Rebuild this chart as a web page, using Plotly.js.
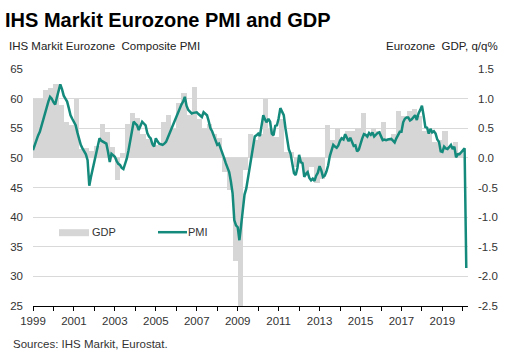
<!DOCTYPE html>
<html>
<head>
<meta charset="utf-8">
<script src="https://cdn.plot.ly/plotly-3.0.1.min.js"></script>
<style>html,body{margin:0;padding:0;background:#fff;}#chart{width:509px;height:357px;}</style>
</head>
<body>
<div id="chart"></div>
<script>
// Eurozone GDP q/q %, quarterly from 1999 Q1 to 2019 Q4
const gdpStartYear = 1999;
const gdpValues = [
  1.0, 1.0, 1.14, 1.18,
  1.24, 0.89, 0.60, 0.55,
  1.0, 0.15, 0.17, 0.12,
  0.2, 0.58, 0.44, 0.18,
  -0.38, 0.08, 0.58, 0.75,
  0.68, 0.4, 0.32, 0.21,
  0.21, 0.6, 0.73, 0.49,
  0.93, 1.1, 0.72, 1.2,
  0.66, 0.5, 0.58, 0.4,
  0.33, -0.24, -0.55, -1.74,
  -3.0, -0.2, 0.4, 0.3,
  0.4, 1.0, 0.5, 0.35,
  0.65, 0.1, 0.1, -0.15,
  -0.1, -0.3, -0.15, -0.43,
  -0.35, 0.55, 0.3, 0.5,
  0.35, 0.45, 0.45, 0.5,
  0.75, 0.4, 0.5, 0.45,
  0.6, 0.3, 0.4, 0.79,
  0.7, 0.79, 0.83, 0.7,
  0.46, 0.45, 0.27, 0.3,
  0.46, 0.2, 0.27, 0.1
];

// IHS Markit Eurozone Composite PMI, monthly from Jan 1999 to Mar 2020
const pmiStartYear = 1999;
const pmiValues = [
  51.3, 52.2, 53.0, 53.8, 54.4, 55.5, 56.6, 57.5, 58.4, 59.5, 60.3, 60.0,
  59.4, 59.0, 60.2, 61.5, 62.4, 61.6, 60.5, 60.0, 59.5, 58.4, 57.2, 56.6,
  56.0, 55.5, 54.3, 53.2, 52.2, 51.6, 51.0, 50.6, 49.6, 45.3, 46.8, 48.2,
  49.3, 50.9, 52.3, 53.3, 52.9, 52.7, 52.5, 52.4, 51.0, 49.3, 50.7, 50.5,
  50.2, 49.5, 49.0, 48.8, 48.3, 48.1, 49.0, 49.9, 51.3, 52.7, 54.5, 56.1,
  55.8, 55.5, 54.7, 55.3, 56.1, 55.8, 55.5, 54.2, 53.6, 53.3, 52.3, 51.9,
  53.3, 52.8, 52.4, 52.3, 52.2, 52.4, 52.7, 53.4, 54.1, 55.0, 55.8, 56.5,
  57.2, 57.9, 58.6, 59.0, 59.5, 60.3, 58.8, 58.1, 57.8, 57.5, 57.6, 57.7,
  57.7, 57.4, 57.2, 56.9, 57.7, 57.5, 57.2, 56.2, 55.0, 54.5, 53.8, 53.0,
  52.2, 52.4, 51.7, 51.0, 50.0, 49.1, 48.3, 47.6, 46.0, 44.0, 39.5, 38.6,
  38.3, 36.1, 38.6, 41.5, 43.8, 44.8, 46.5, 48.5, 50.5, 51.8, 53.6, 53.8,
  54.1, 53.7, 55.9, 57.2, 56.5, 56.0, 56.6, 56.1, 54.1, 53.8, 55.4, 55.5,
  56.7, 58.4, 57.8, 57.2, 55.0, 53.4, 51.4, 50.7, 49.0, 47.4, 47.1, 48.3,
  50.5, 49.3, 49.1, 46.8, 47.3, 47.6, 46.6, 46.2, 46.5, 46.1, 47.0, 47.5,
  48.6, 47.9, 46.8, 47.0, 47.7, 48.7, 50.3, 51.5, 52.2, 51.9, 51.7, 52.1,
  52.9, 53.3, 53.1, 54.0, 53.5, 52.8, 53.4, 52.5, 52.0, 52.1, 51.1, 51.4,
  52.6, 53.3, 54.0, 53.9, 53.6, 54.2, 53.9, 54.3, 53.6, 53.9, 54.2, 54.3,
  53.6, 53.0, 53.1, 53.0, 53.1, 53.1, 53.2, 52.9, 52.6, 53.3, 53.9, 54.4,
  54.4, 56.0, 56.6, 56.8, 56.8, 56.3, 56.5, 56.9, 57.2, 56.4, 57.5, 58.1,
  58.8, 57.1, 55.2, 55.1, 54.1, 54.9, 54.3, 54.5, 54.1, 53.1, 52.7, 51.1,
  51.0, 51.9, 51.6, 51.5, 51.8, 52.2, 51.5, 51.9, 50.1, 50.6, 50.6, 50.9,
  51.3, 51.6, 31.4
];

// Tick labels
const yearTicks = [1999,2000,2001,2002,2003,2004,2005,2006,2007,2008,2009,2010,2011,2012,2013,2014,2015,2016,2017,2018,2019,2020];
const yearLabels = ['1999','','2001','','2003','','2005','','2007','','2009','','2011','','2013','','2015','','2017','','2019',''];
const pmiTicks = [25,30,35,40,45,50,55,60,65];
const pmiLabels = ['25','30','35','40','45','50','55','60','65'];
const gdpTicks = [-2.5,-2.0,-1.5,-1.0,-0.5,0.0,0.5,1.0,1.5];
const gdpLabels = ['-2.5','-2.0','-1.5','-1.0','-0.5','0.0','0.5','1.0','1.5'];

const seriesNames = ['GDP', 'PMI'];
const titleText = 'IHS Markit Eurozone PMI and GDP';
const leftAxisTitle = 'IHS Markit Eurozone  Composite PMI';
const rightAxisTitle = 'Eurozone  GDP, q/q%';
const sourceText = 'Sources: IHS Markit, Eurostat.';

const FONT = 'Arial, "Liberation Sans", sans-serif';
const TEAL = '#138a7c';
const BARGRAY = '#d6d6d6';

const gdpX = gdpValues.map((v, i) => gdpStartYear + i * 0.25 + 0.125);
const pmiX = pmiValues.map((v, i) => pmiStartYear + i / 12);

const traces = [
  {
    type: 'bar', name: seriesNames[0], x: gdpX, y: gdpValues, width: 0.25,
    marker: {color: BARGRAY, line: {width: 0}}, yaxis: 'y', xaxis: 'x',
    hoverinfo: 'skip', showlegend: false
  },
  {
    type: 'scatter', mode: 'lines', name: seriesNames[1], x: pmiX, y: pmiValues,
    line: {color: TEAL, width: 2.5}, yaxis: 'y2', xaxis: 'x',
    hoverinfo: 'skip', showlegend: false
  }
];

// plot area pixel geometry
const L = 33, R = 41, T = 69, B = 51.3;
const W = 509 - L - R, H = 357 - T - B;
const px = (x) => (x - L) / W;
const py = (y) => (357 - B - y) / H;

const layout = {
  width: 509, height: 357,
  margin: {l: L, r: R, t: T, b: B, pad: 0},
  paper_bgcolor: '#ffffff', plot_bgcolor: '#ffffff',
  font: {family: FONT, size: 11, color: '#333333'},
  showlegend: false,
  bargap: 0,
  title: {
    text: '<b>' + titleText + '</b>',
    font: {family: FONT, size: 20, color: '#000000'},
    xref: 'container', yref: 'container',
    x: 5 / 509, xanchor: 'left', y: 1 - 20 / 357, yanchor: 'middle'
  },
  xaxis: {
    range: [1999, 2020.25], tickmode: 'array', tickvals: yearTicks, ticktext: yearLabels,
    ticks: 'outside', ticklen: 4, tickwidth: 1, tickcolor: '#000000',
    showline: true, linecolor: '#000000', linewidth: 1,
    showgrid: false, zeroline: false,
    tickfont: {family: FONT, size: 11.5, color: '#333333'}, fixedrange: true
  },
  yaxis: {
    range: [-2.5, 1.5], side: 'right', tickmode: 'array', tickvals: gdpTicks, ticktext: gdpLabels,
    showgrid: true, gridcolor: '#d9d9d9', gridwidth: 1, zeroline: false, showline: false,
    ticks: '', ticklabelstandoff: 9,
    tickfont: {family: FONT, size: 11.5, color: '#333333'}, fixedrange: true
  },
  yaxis2: {
    range: [25, 65], overlaying: 'y', side: 'left', tickmode: 'array', tickvals: pmiTicks, ticktext: pmiLabels,
    showgrid: false, zeroline: false, showline: false,
    ticks: '', ticklabelstandoff: 9,
    tickfont: {family: FONT, size: 11.5, color: '#333333'}, fixedrange: true
  },
  shapes: [
    {type: 'rect', xref: 'paper', yref: 'paper', x0: px(59), x1: px(89), y0: py(236), y1: py(229),
     fillcolor: BARGRAY, line: {width: 0}},
    {type: 'line', xref: 'paper', yref: 'paper', x0: px(158), x1: px(187), y0: py(232), y1: py(232),
     line: {color: TEAL, width: 2.5}}
  ],
  annotations: [
    {text: seriesNames[0], xref: 'paper', yref: 'paper', x: px(90), y: py(232), xanchor: 'left', yanchor: 'middle',
     showarrow: false, font: {family: FONT, size: 11, color: '#333333'}},
    {text: seriesNames[1], xref: 'paper', yref: 'paper', x: px(186), y: py(232), xanchor: 'left', yanchor: 'middle',
     showarrow: false, font: {family: FONT, size: 11, color: '#333333'}},
    {text: leftAxisTitle, xref: 'paper', yref: 'paper', x: px(7), y: py(46.5), xanchor: 'left', yanchor: 'middle',
     showarrow: false, font: {family: FONT, size: 11.5, color: '#222222'}},
    {text: rightAxisTitle, xref: 'paper', yref: 'paper', x: px(500), y: py(46.5), xanchor: 'right', yanchor: 'middle',
     showarrow: false, font: {family: FONT, size: 11.5, color: '#222222'}},
    {text: sourceText, xref: 'paper', yref: 'paper', x: px(11), y: py(344), xanchor: 'left', yanchor: 'middle',
     showarrow: false, font: {family: FONT, size: 11.5, color: '#333333'}}
  ]
};

Plotly.newPlot('chart', traces, layout, {staticPlot: true, displayModeBar: false});
</script>
</body>
</html>
